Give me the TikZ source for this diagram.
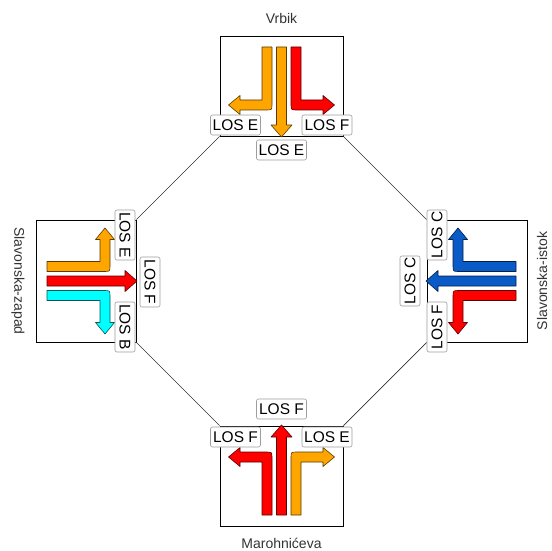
\documentclass[tikz,border=0pt]{standalone}
\usepackage{fontspec}
\setmainfont{Liberation Sans}
\definecolor{aor}{RGB}{255,165,0}
\definecolor{ard}{RGB}{255,0,0}
\definecolor{acy}{RGB}{0,255,255}
\definecolor{abl}{RGB}{10,90,200}
\definecolor{tgray}{RGB}{51,51,51}
\newcommand{\ipt}[2]{({\ox+(\ax)*(#1)+(\bx)*(#2)},{\oy+(\ay)*(#1)+(\by)*(#2)})}
\newcommand{\setframe}[6]{\def\ox{#1}\def\oy{#2}\def\ax{#3}\def\bx{#4}\def\ay{#5}\def\by{#6}}
\newcommand{\arrset}[3]{%
  % turn towards negative u
  \filldraw[fill=#1, draw=#1!35!black, arrline]
    \ipt{-19.5}{11} -- \ipt{-9.5}{11} -- \ipt{-9.5}{68}
    .. controls \ipt{-9.5}{74} .. \ipt{-15.5}{74}
    -- \ipt{-41.5}{74} -- \ipt{-41.5}{78.5} -- \ipt{-53}{69} -- \ipt{-41.5}{59.5}
    -- \ipt{-41.5}{64} -- \ipt{-19.5}{64} -- cycle;
  % straight
  \filldraw[fill=#2, draw=#2!35!black, arrline]
    \ipt{-5}{11} -- \ipt{5}{11} -- \ipt{5}{89} -- \ipt{10.5}{89} -- \ipt{0}{101}
    -- \ipt{-10.5}{89} -- \ipt{-5}{89} -- cycle;
  % turn towards positive u
  \filldraw[fill=#3, draw=#3!35!black, arrline]
    \ipt{19.5}{11} -- \ipt{9.5}{11} -- \ipt{9.5}{68}
    .. controls \ipt{9.5}{74} .. \ipt{15.5}{74}
    -- \ipt{41.5}{74} -- \ipt{41.5}{78.5} -- \ipt{53}{69} -- \ipt{41.5}{59.5}
    -- \ipt{41.5}{64} -- \ipt{19.5}{64} -- cycle;
}
\begin{document}
\begin{tikzpicture}[x=1pt,y=-1pt,
  arrline/.style={line width=0.6pt, line join=round},
  boxst/.style={draw=black, line width=0.8pt, fill=none, inner sep=0pt},
  conn/.style={draw=black!80, line width=0.7pt},
  lab/.style={draw=black!38, line width=0.6pt, fill=white, rounded corners=2pt, inner sep=0pt,
    minimum width=50pt, minimum height=20pt, font=\fontsize{15.5}{16}\selectfont},
  ttl/.style={text=tgray, inner sep=0pt, font=\fontsize{14}{16}\selectfont}]
\useasboundingbox (0,0) rectangle (552,551);
\fill[white] (0,0) rectangle (552,551);
% boxes
\node[boxst, minimum width=123pt, minimum height=100pt] (btop) at (281.5,86) {};
\node[boxst, minimum width=100pt, minimum height=122pt] (bleft) at (86,281) {};
\node[boxst, minimum width=100pt, minimum height=122pt] (bright) at (477,281) {};
\node[boxst, minimum width=123pt, minimum height=100pt] (bbot) at (281.5,476) {};
% connectors
\draw[conn] (btop.south west) -- (bleft.north east);
\draw[conn] (bleft.south east) -- (bbot.north west);
\draw[conn] (bbot.north east) -- (bright.south west);
\draw[conn] (bright.north west) -- (btop.south east);
% arrows
\setframe{281.5}{36}{1}{0}{0}{1}
\arrset{aor}{aor}{ard}
\setframe{36}{281}{0}{1}{1}{0}
\arrset{aor}{ard}{acy}
\setframe{527}{281}{0}{-1}{1}{0}
\arrset{abl}{abl}{ard}
\setframe{281.5}{526}{1}{0}{0}{-1}
\arrset{ard}{ard}{aor}
% labels
\node[lab] (t1) at (235.5,125) {LOS E};
\node[lab] (t2) at (327,125) {LOS F};
\node[lab] (t3) at (281.5,150) {LOS E};
\node[lab, rotate=-90] (l1) at (125,235) {LOS E};
\node[lab, rotate=-90] (l2) at (150,282) {LOS F};
\node[lab, rotate=-90] (l3) at (125,327) {LOS B};
\node[lab, rotate=90] (r1) at (437,235) {LOS C};
\node[lab, rotate=90] (r2) at (410,281) {LOS C};
\node[lab, rotate=90] (r3) at (437,327) {LOS F};
\node[lab] (m1) at (235.5,437) {LOS F};
\node[lab] (m2) at (327,437) {LOS E};
\node[lab] (m3) at (281.5,409) {LOS F};
% titles
\node[ttl] (n1) at (281.5,18) {Vrbik};
\node[ttl] (n2) at (281.5,543) {Marohnićeva};
\node[ttl, rotate=-90] (n3) at (18,281) {Slavonska-zapad};
\node[ttl, rotate=90] (n4) at (542,281) {Slavonska-istok};
\end{tikzpicture}
\end{document}
